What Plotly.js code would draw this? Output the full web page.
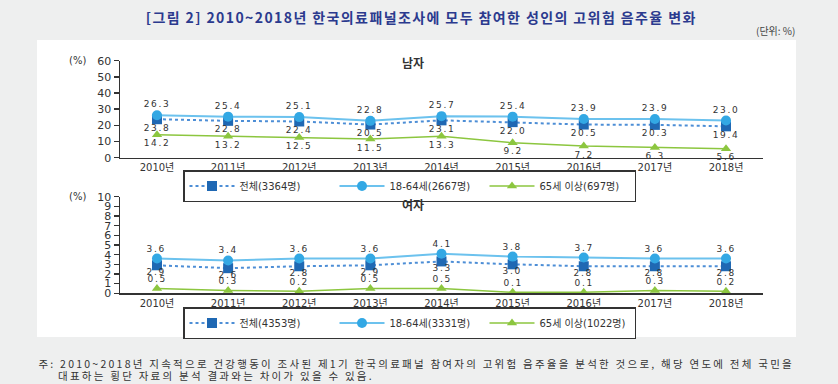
<!DOCTYPE html>
<html><head><meta charset="utf-8">
<script src="https://cdn.plot.ly/plotly-3.0.1.min.js"></script>
<style>html,body{margin:0;padding:0;background:#eeefef;}#chart{width:838px;height:384px;}</style>
</head><body><div id="chart"></div>
<script>
const years = ['2010년','2011년','2012년','2013년','2014년','2015년','2016년','2017년','2018년'];

const maleTotal = [23.8, 22.8, 22.4, 20.5, 23.1, 22.0, 20.5, 20.3, 19.4];
const maleAdult = [26.3, 25.4, 25.1, 22.8, 25.7, 25.4, 23.9, 23.9, 23.0];
const maleSenior = [14.2, 13.2, 12.5, 11.5, 13.3, 9.2, 7.2, 6.3, 5.6];

const femaleTotal = [2.9, 2.6, 2.8, 2.9, 3.3, 3.0, 2.8, 2.8, 2.8];
const femaleAdult = [3.6, 3.4, 3.6, 3.6, 4.1, 3.8, 3.7, 3.6, 3.6];
const femaleSenior = [0.5, 0.3, 0.2, 0.5, 0.5, 0.1, 0.1, 0.3, 0.2];

const maleNames = ['전체(3364명)', '18-64세(2667명)', '65세 이상(697명)'];
const femaleNames = ['전체(4353명)', '18-64세(3331명)', '65세 이상(1022명)'];

const maleTicks = [0, 10, 20, 30, 40, 50, 60];
const femaleTicks = [0, 1, 2, 3, 4, 5, 6, 7, 8, 9, 10];

const W = 838, H = 384;
const px = v => v / W;
const py = v => 1 - v / H;

const FONT = 'DejaVu Sans, Noto Sans CJK KR, sans-serif';
const labelFont = {family: FONT, size: 9, color: '#333'};

const cTotal = '#1f68b3', cTotalLine = '#4d8ed6';
const cAdult = '#33a8e4', cAdultLine = '#6cc2ee';
const cSenior = '#8cc63f';

function series(y, name, xa, ya, leg, kind) {
  const t = {
    x: years, y: y, name: name, xaxis: xa, yaxis: ya, legend: leg,
    type: 'scatter', mode: 'lines+markers', cliponaxis: false, hoverinfo: 'skip'
  };
  if (kind === 'total') {
    t.line = {color: cTotalLine, width: 2, dash: 'dot'};
    t.marker = {symbol: 'square', size: 10, color: cTotal};
  } else if (kind === 'adult') {
    t.line = {color: cAdultLine, width: 2};
    t.marker = {symbol: 'circle', size: 10, color: cAdult};
  } else {
    t.line = {color: cSenior, width: 1.5};
    t.marker = {symbol: 'triangle-up', size: 9, color: cSenior};
  }
  return t;
}

// value labels, anchored to the data points through the axes, offset in pixels
function labels(y, xa, ya, shift) {
  return y.map((v, i) => ({
    xref: xa, yref: ya, x: years[i], y: v, text: v.toFixed(1), showarrow: false,
    xanchor: 'center', yanchor: 'middle', yshift: shift, font: labelFont
  }));
}

const data = [
  series(maleTotal, maleNames[0], 'x', 'y', 'legend', 'total'),
  series(maleAdult, maleNames[1], 'x', 'y', 'legend', 'adult'),
  series(maleSenior, maleNames[2], 'x', 'y', 'legend', 'senior'),
  series(femaleTotal, femaleNames[0], 'x2', 'y2', 'legend2', 'total'),
  series(femaleAdult, femaleNames[1], 'x2', 'y2', 'legend2', 'adult'),
  series(femaleSenior, femaleNames[2], 'x2', 'y2', 'legend2', 'senior')
];

const xCommon = {
  type: 'category', range: [-0.52, 8.52], domain: [px(120), px(763)],
  showline: true, linecolor: '#333', linewidth: 1.5, showgrid: false, zeroline: false,
  ticks: '', tickfont: {family: FONT, size: 10, color: '#333'}, fixedrange: true
};
const yCommon = {
  showline: true, linecolor: '#333', linewidth: 1.5, showgrid: false, zeroline: false,
  ticks: 'outside', ticklen: 5, tickwidth: 1.5, tickcolor: '#333',
  tickfont: {family: FONT, size: 11, color: '#333'}, fixedrange: true
};

const legendCommon = {
  orientation: 'h', xanchor: 'left', yanchor: 'top',
  bordercolor: '#333', borderwidth: 1.5, bgcolor: '#fff',
  font: {family: FONT, size: 10, color: '#333'},
  itemwidth: 45, entrywidth: 90, entrywidthmode: 'pixels', traceorder: 'normal'
};

const annotations = [
  {xref: 'paper', yref: 'paper', x: px(421), y: py(17), xanchor: 'center', yanchor: 'middle', showarrow: false,
   text: '<b>[그림 2] 2010~2018년 한국의료패널조사에 모두 참여한 성인의 고위험 음주율 변화</b>',
   font: {family: 'Noto Sans CJK KR', size: 14, color: '#2b3a8e'}},
  {xref: 'paper', yref: 'paper', x: px(797), y: py(31), xanchor: 'right', yanchor: 'middle', showarrow: false,
   text: '(단위: %)', font: {family: 'Noto Sans CJK KR', size: 10, color: '#444'}},
  {xref: 'paper', yref: 'paper', x: px(88), y: py(60.7), xanchor: 'right', yanchor: 'middle', showarrow: false,
   text: '(%)', font: {family: FONT, size: 10, color: '#333'}},
  {xref: 'paper', yref: 'paper', x: px(88), y: py(196.7), xanchor: 'right', yanchor: 'middle', showarrow: false,
   text: '(%)', font: {family: FONT, size: 10, color: '#333'}},
  {xref: 'paper', yref: 'paper', x: px(413), y: py(62), xanchor: 'center', yanchor: 'middle', showarrow: false,
   text: '<b>남자</b>', font: {family: 'Noto Sans CJK KR', size: 12, color: '#333'}},
  {xref: 'paper', yref: 'paper', x: px(413), y: py(204), xanchor: 'center', yanchor: 'middle', showarrow: false,
   text: '<b>여자</b>', font: {family: 'Noto Sans CJK KR', size: 12, color: '#333'}},
  {xref: 'paper', yref: 'paper', x: px(416), y: py(363), xanchor: 'center', yanchor: 'middle', showarrow: false,
   text: '주: 2010~2018년 지속적으로 건강행동이 조사된 제1기 한국의료패널 참여자의 고위험 음주율을 분석한 것으로, 해당 연도에 전체 국민을',
   font: {family: 'Noto Sans CJK KR', size: 10.5, color: '#333'}},
  {xref: 'paper', yref: 'paper', x: px(216), y: py(375), xanchor: 'center', yanchor: 'middle', showarrow: false,
   text: '대표하는 횡단 자료의 분석 결과와는 차이가 있을 수 있음.',
   font: {family: 'Noto Sans CJK KR', size: 10.5, color: '#333'}}
].concat(
  labels(maleAdult, 'x', 'y', 11),
  labels(maleTotal, 'x', 'y', -8.5),
  labels(maleSenior, 'x', 'y', -8.5),
  labels(femaleAdult, 'x2', 'y2', 10),
  labels(femaleTotal, 'x2', 'y2', -7),
  labels(femaleSenior, 'x2', 'y2', 9)
);

const layout = {
  width: W, height: H,
  margin: {l: 0, r: 0, t: 0, b: 0},
  paper_bgcolor: '#eeefef', plot_bgcolor: '#fff',
  showlegend: true,
  xaxis: Object.assign({}, xCommon, {anchor: 'y'}),
  yaxis: Object.assign({}, yCommon, {anchor: 'x', domain: [py(157.7), py(60.7)], range: [0, 60], tickvals: maleTicks}),
  xaxis2: Object.assign({}, xCommon, {anchor: 'y2'}),
  yaxis2: Object.assign({}, yCommon, {anchor: 'x2', domain: [py(293.3), py(196.7)], range: [0, 10], tickvals: femaleTicks}),
  legend: Object.assign({}, legendCommon, {x: px(183), y: py(170)}),
  legend2: Object.assign({}, legendCommon, {x: px(183), y: py(307)}),
  shapes: [
    {type: 'rect', xref: 'paper', yref: 'paper', x0: px(37), x1: px(796), y0: py(337), y1: py(40),
     fillcolor: '#fff', line: {width: 0}, layer: 'below'}
  ],
  annotations: annotations
};

Plotly.newPlot('chart', data, layout, {displayModeBar: false, staticPlot: true}).then(() => {
  document.querySelectorAll('text.annotation-text').forEach(t => {
    const s = t.textContent;
    if (s.startsWith('[그림')) t.style.letterSpacing = '1.4px';
    else if (s.startsWith('주:') || s.startsWith('대표하는')) t.style.letterSpacing = '2.25px';
    else if (/^\d+\.\d$/.test(s)) t.style.letterSpacing = '1.6px';
  });
});
</script>
</body></html>
